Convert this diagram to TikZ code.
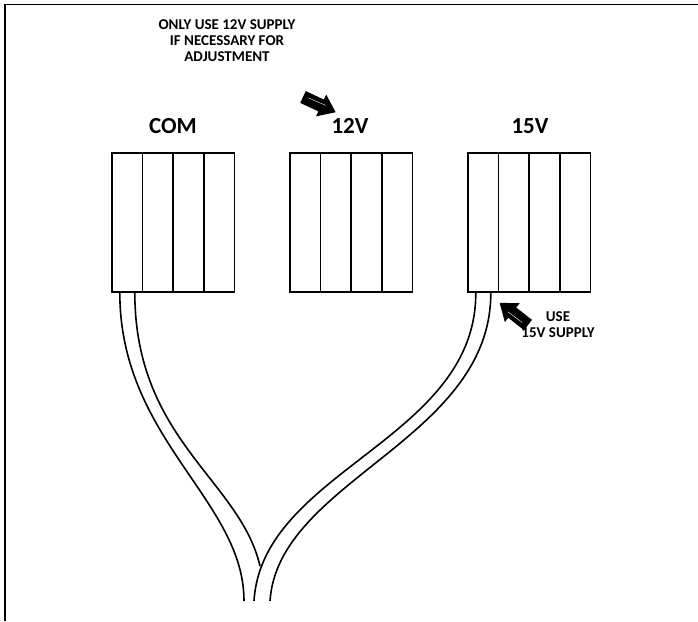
\documentclass[tikz,border=0pt]{standalone}
\usepackage{fontspec}
\setmainfont{Carlito}

\tikzset{
  cell/.style={draw, line width=1.6pt, minimum width=30.6pt, minimum height=139pt, inner sep=0pt},
  wire/.style={line width=1.6pt},
  tag/.style={font=\fontsize{23}{26}\selectfont\bfseries, anchor=base},
  note/.style={font=\fontsize{15}{15.7}\selectfont\bfseries, align=center, anchor=base},
  streak/.style={white, line width=0.4pt}
}

\begin{document}
\begin{tikzpicture}[x=1pt, y=-1pt]
    \useasboundingbox (0,0) rectangle (698,621);

    % Frame
    \draw[line width=1.8pt] (5,621) -- (5,4.5) -- (698,4.5);

    % Terminal blocks
    \foreach \i in {1,...,4} {
        \node[cell] (com\i) at ({112+30.6*(\i-0.5)},222.5) {};
        \node[cell] (twelve\i) at ({290+30.6*(\i-0.5)},222.5) {};
        \node[cell] (fifteen\i) at ({468+30.6*(\i-0.5)},222.5) {};
    }

    % Block labels
    \node[tag] (comlbl) at (173,133) {COM};
    \node[tag] (twelvelbl) at (350,133) {12V};
    \node[tag] (fifteenlbl) at (530,133) {15V};

    % Notes
    \node[note] (adjnote) at (227,61) {ONLY USE 12V SUPPLY\\IF NECESSARY FOR\\ADJUSTMENT};
    \node[note] (usenote) at (558,337) {USE\\15V SUPPLY};

    % Pointer arrows
    \foreach \tx/\ty/\ang in {303/97/-25, 528/325/142} {
        \begin{scope}[shift={(\tx,\ty)}, rotate=\ang]
            \fill (0,-6.5) -- (20,-6.5) -- (20,-12) -- (36,0) -- (20,12) -- (20,6.5) -- (0,6.5) -- cycle;
            \draw[streak] (6,-1.5) -- (24,-2);
        \end{scope}
    }

    % Wire ends at the bottom
    \coordinate (comendA) at (244,601);
    \coordinate (merge) at (260,566);
    \coordinate (fifteenendA) at (254,601);
    \coordinate (fifteenendB) at (270,601);

    % Wires from COM
    \draw[wire] ([xshift=-7.5pt]com1.south) .. controls (120,440) and (244,500) .. (comendA);
    \draw[wire] ([xshift=7.5pt]com1.south) .. controls (135,440) and (240,480) .. (merge);

    % Wires from 15V
    \draw[wire] ([xshift=-7.5pt]fifteen1.south) .. controls (476,440) and (262,470) .. (fifteenendA);
    \draw[wire] ([xshift=7.5pt]fifteen1.south) .. controls (491,440) and (278,480) .. (fifteenendB);
\end{tikzpicture}
\end{document}
